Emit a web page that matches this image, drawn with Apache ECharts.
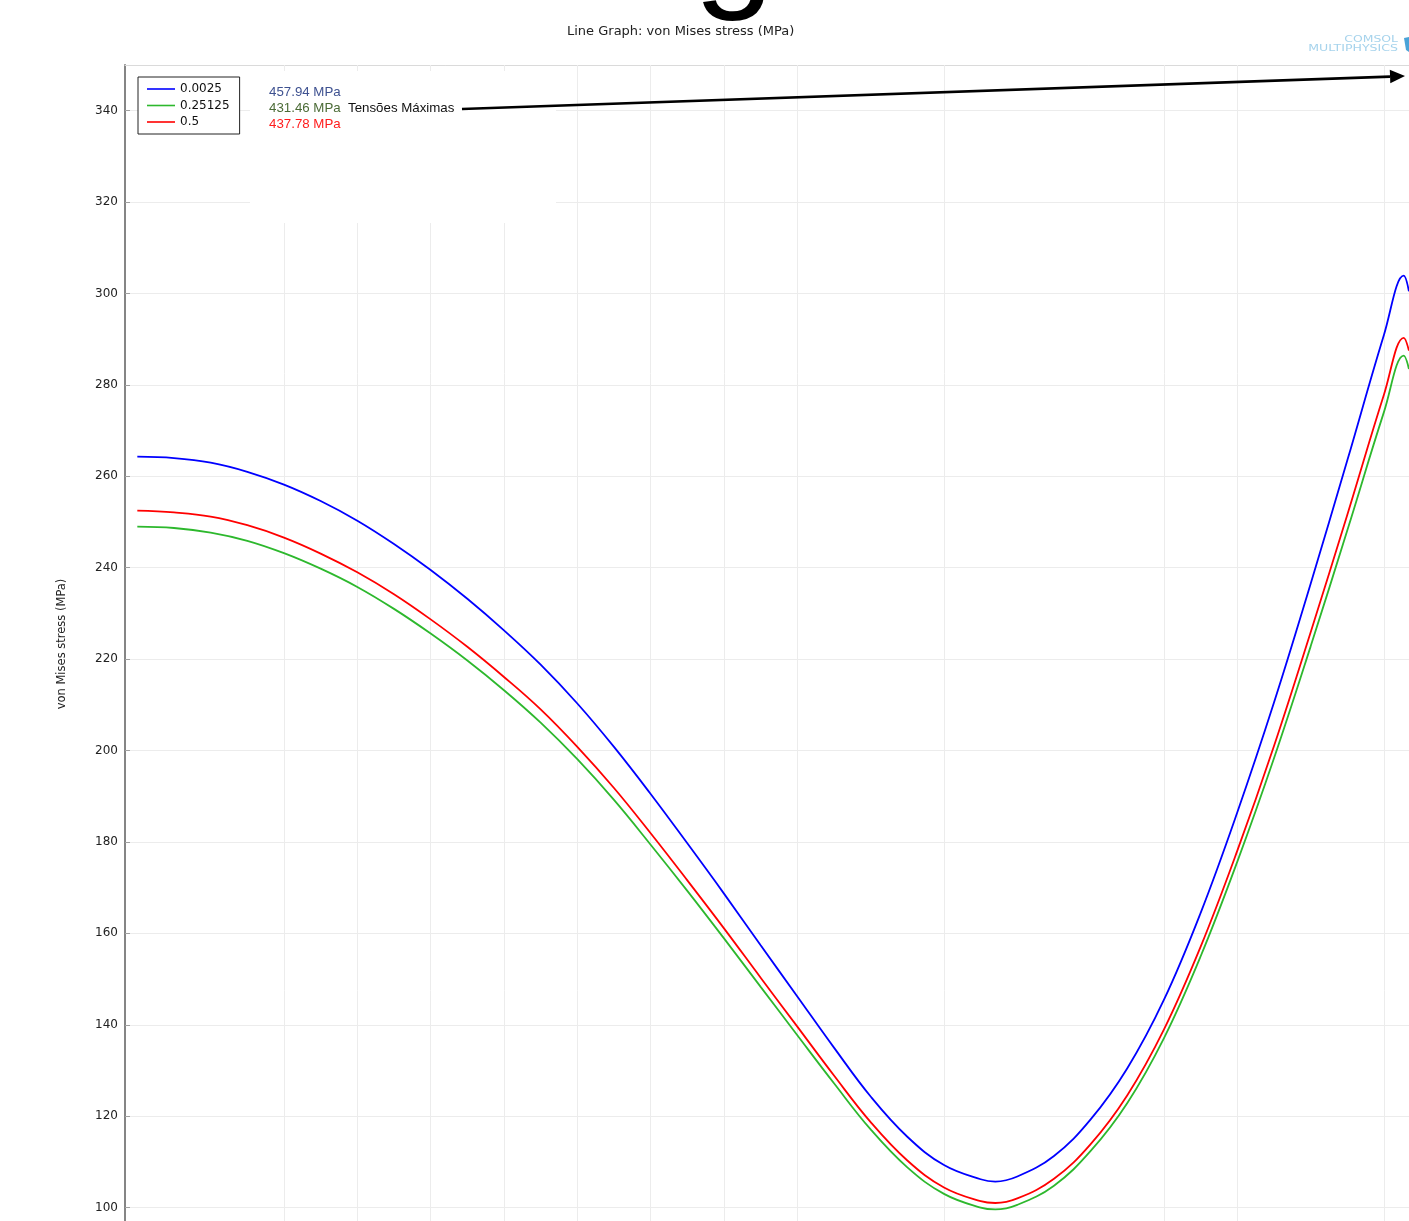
<!DOCTYPE html>
<html>
<head>
<meta charset="utf-8">
<script src="https://cdn.jsdelivr.net/npm/echarts@6/dist/echarts.min.js"></script>
<style>
  html, body { margin: 0; padding: 0; background: #fff; overflow: hidden; }
  #chart { width: 1409px; height: 1299px; }
</style>
</head>
<body>
<div id="chart"></div>
<script>
// Position along the evaluation line (arc-length units)
const xPos = [1.0, 1.5, 2.0, 2.5, 3.0, 3.5, 4.0, 4.5, 5.0, 5.5, 6.0, 6.5, 7.0, 7.5, 8.0, 8.5, 9.0, 9.5,
  10.0, 10.5, 11.0, 11.5, 12.0, 12.5, 12.7, 13.0, 13.5, 14.0, 14.5, 15.0, 15.5, 16.0, 16.5, 17.0, 17.5,
  18.0, 18.27, 18.34];

const seriesNames = ['0.0025', '0.25125', '0.5'];

// von Mises stress (MPa) for each parameter value
const stress0025 = [264.3, 264.0, 263.0, 261.0, 258.2, 254.6, 250.3, 245.2, 239.5, 233.2, 226.3, 218.8,
  210.3, 200.8, 190.5, 179.7, 168.7, 157.4, 146.2, 135.0, 124.3, 115.5, 109.3, 106.2, 105.7, 106.8,
  111.3, 119.3, 130.5, 145.5, 164.5, 186.5, 210.5, 236.5, 263.5, 291.0, 303.9, 300.5];
const stress025125 = [249.0, 248.7, 247.7, 245.9, 243.2, 239.8, 235.8, 231.0, 225.6, 219.7, 213.2, 206.1,
  198.1, 189.2, 179.4, 169.3, 158.9, 148.3, 137.7, 127.2, 117.1, 108.8, 103.0, 100.0, 99.6, 100.6,
  104.8, 112.4, 122.9, 137.1, 155.0, 175.7, 198.3, 222.8, 248.2, 274.1, 286.4, 283.5];
const stress05 = [252.5, 252.1, 251.2, 249.3, 246.6, 243.1, 239.0, 234.2, 228.7, 222.7, 216.1, 209.0,
  200.8, 191.8, 181.9, 171.6, 161.1, 150.3, 139.6, 128.9, 118.7, 110.3, 104.4, 101.4, 101.0, 102.0,
  106.3, 113.9, 124.6, 139.0, 157.1, 178.1, 201.0, 225.9, 251.6, 277.9, 290.3, 287.5];

// Axis ranges, grid and tick positions
const xRange = [0.832, 18.341];
const yRange = [80, 350];
const yStep = 20;
const gridLinesX = [3, 4, 5, 6, 7, 8, 9, 10, 12, 15, 16, 18];
const topTicksX = [5, 6, 7, 8, 9, 10, 12, 15, 18];

// Maximum stresses reported beside the legend
const maxStressLabels = ['457.94 MPa', '431.46 MPa', '437.78 MPa'];
const maxStressTitle = 'Tensões Máximas';

const lineColors = ['#0000ff', '#2db82d', '#ff0000'];
const labelColors = ['#3e5190', '#4b6b36', '#ff1c1c'];

const toPairs = vals => xPos.map((x, i) => [x, vals[i]]);
const seriesValues = [stress0025, stress025125, stress05];

const chart = echarts.init(document.getElementById('chart'), null, { renderer: 'canvas' });

const curveSeries = seriesNames.map((name, i) => ({
  name: name,
  type: 'line',
  xAxisIndex: 0,
  yAxisIndex: 0,
  data: toPairs(seriesValues[i]),
  smooth: 0.4,
  symbol: 'none',
  z: 3,
  lineStyle: { color: lineColors[i], width: 1.8 },
  itemStyle: { color: lineColors[i] },
  emphasis: { disabled: true }
}));

const option = {
  animation: false,
  backgroundColor: '#ffffff',
  title: {
    text: 'Line Graph: von Mises stress (MPa)',
    left: 567,
    top: 25,
    padding: 0,
    textStyle: { fontFamily: 'DejaVu Sans', fontSize: 13, fontWeight: 'normal', color: '#222' }
  },
  legend: {
    data: seriesNames,
    orient: 'vertical',
    left: 138,
    top: 77,
    padding: [5, 10, 5, 9],
    itemGap: 2.5,
    itemWidth: 28,
    itemHeight: 1.6,
    icon: 'rect',
    backgroundColor: '#ffffff',
    borderColor: '#222',
    borderWidth: 1,
    borderRadius: 0,
    textStyle: { fontFamily: 'DejaVu Sans', fontSize: 12, lineHeight: 14, color: '#111' },
    selectedMode: false
  },
  grid: { left: 125, right: 0, top: 65, bottom: 0, containLabel: false },
  xAxis: [
    {
      type: 'value', min: xRange[0], max: xRange[1], show: false
    },
    {
      type: 'value', position: 'top', min: xRange[0], max: xRange[1],
      axisLine: { show: true, lineStyle: { color: '#dadada', width: 1 } },
      axisTick: { show: true, inside: true, length: 5, customValues: topTicksX, lineStyle: { color: '#8a8a8a', width: 1 } },
      axisLabel: { show: false },
      splitLine: { show: false }
    }
  ],
  yAxis: {
    type: 'value',
    min: yRange[0],
    max: yRange[1],
    interval: yStep,
    axisLine: { show: true, lineStyle: { color: '#858585', width: 2 } },
    axisTick: { show: true, inside: true, length: 5, lineStyle: { color: '#a0a0a0' } },
    axisLabel: { color: '#222', fontFamily: 'DejaVu Sans', fontSize: 12, margin: 7, showMaxLabel: false, showMinLabel: false },
    splitLine: { show: true, lineStyle: { color: '#ececec', width: 1 } }
  },
  series: [
    {
      type: 'line',
      xAxisIndex: 0,
      data: [],
      z: 1,
      silent: true,
      markLine: {
        z: 1,
        silent: true,
        symbol: 'none',
        label: { show: false },
        emphasis: { disabled: true },
        lineStyle: { color: '#ececec', width: 1, type: 'solid' },
        data: gridLinesX.map(v => ({ xAxis: v }))
      }
    }
  ].concat(curveSeries),
  graphic: [
    // blank panel behind the annotation block
    { type: 'rect', silent: true, z: 5, shape: { x: 250, y: 71, width: 306, height: 152 }, style: { fill: '#ffffff' } },
    // y-axis title
    { type: 'text', silent: true, z: 6, x: 62, y: 644, rotation: Math.PI / 2,
      style: { text: 'von Mises stress (MPa)', font: '11.5px "DejaVu Sans"', fill: '#222', align: 'center', verticalAlign: 'middle' } },
    // descender of the large heading above the plot
    { type: 'text', silent: true, z: 6, x: 734, y: -49,
      style: { text: 'g', font: '145px "Liberation Sans"', fill: '#000', align: 'center', verticalAlign: 'middle' } },
    // software mark
    { type: 'text', silent: true, z: 6, x: 1398, y: 40, scaleX: 1.55,
      style: { text: 'COMSOL', font: '8px "DejaVu Sans"', fill: '#a6d3ec', align: 'right', verticalAlign: 'middle' } },
    { type: 'text', silent: true, z: 6, x: 1398, y: 48.5, scaleX: 1.57,
      style: { text: 'MULTIPHYSICS', font: '8px "DejaVu Sans"', fill: '#a6d3ec', align: 'right', verticalAlign: 'middle' } },
    { type: 'polygon', silent: true, z: 6, shape: { points: [[1404, 38], [1409, 37], [1409, 52], [1406, 50]] }, style: { fill: '#4aa3d8' } },
    // maximum stress annotation
    { type: 'text', silent: true, z: 10, x: 269, y: 92,
      style: { text: maxStressLabels[0], font: '13.3px "Liberation Sans"', fill: labelColors[0], verticalAlign: 'middle' } },
    { type: 'text', silent: true, z: 10, x: 269, y: 108,
      style: { text: maxStressLabels[1], font: '13.3px "Liberation Sans"', fill: labelColors[1], verticalAlign: 'middle' } },
    { type: 'text', silent: true, z: 10, x: 269, y: 124,
      style: { text: maxStressLabels[2], font: '13.3px "Liberation Sans"', fill: labelColors[2], verticalAlign: 'middle' } },
    { type: 'text', silent: true, z: 10, x: 348, y: 108,
      style: { text: maxStressTitle, font: '13.3px "Liberation Sans"', fill: '#111', verticalAlign: 'middle' } },
    { type: 'line', silent: true, z: 10, shape: { x1: 462, y1: 109, x2: 1390, y2: 76.6 },
      style: { stroke: '#000', lineWidth: 2.6 } },
    { type: 'polygon', silent: true, z: 10, shape: { points: [[1405, 76], [1389.8, 69.8], [1390.3, 83.2]] },
      style: { fill: '#000' } }
  ]
};

chart.setOption(option);
</script>
</body>
</html>
